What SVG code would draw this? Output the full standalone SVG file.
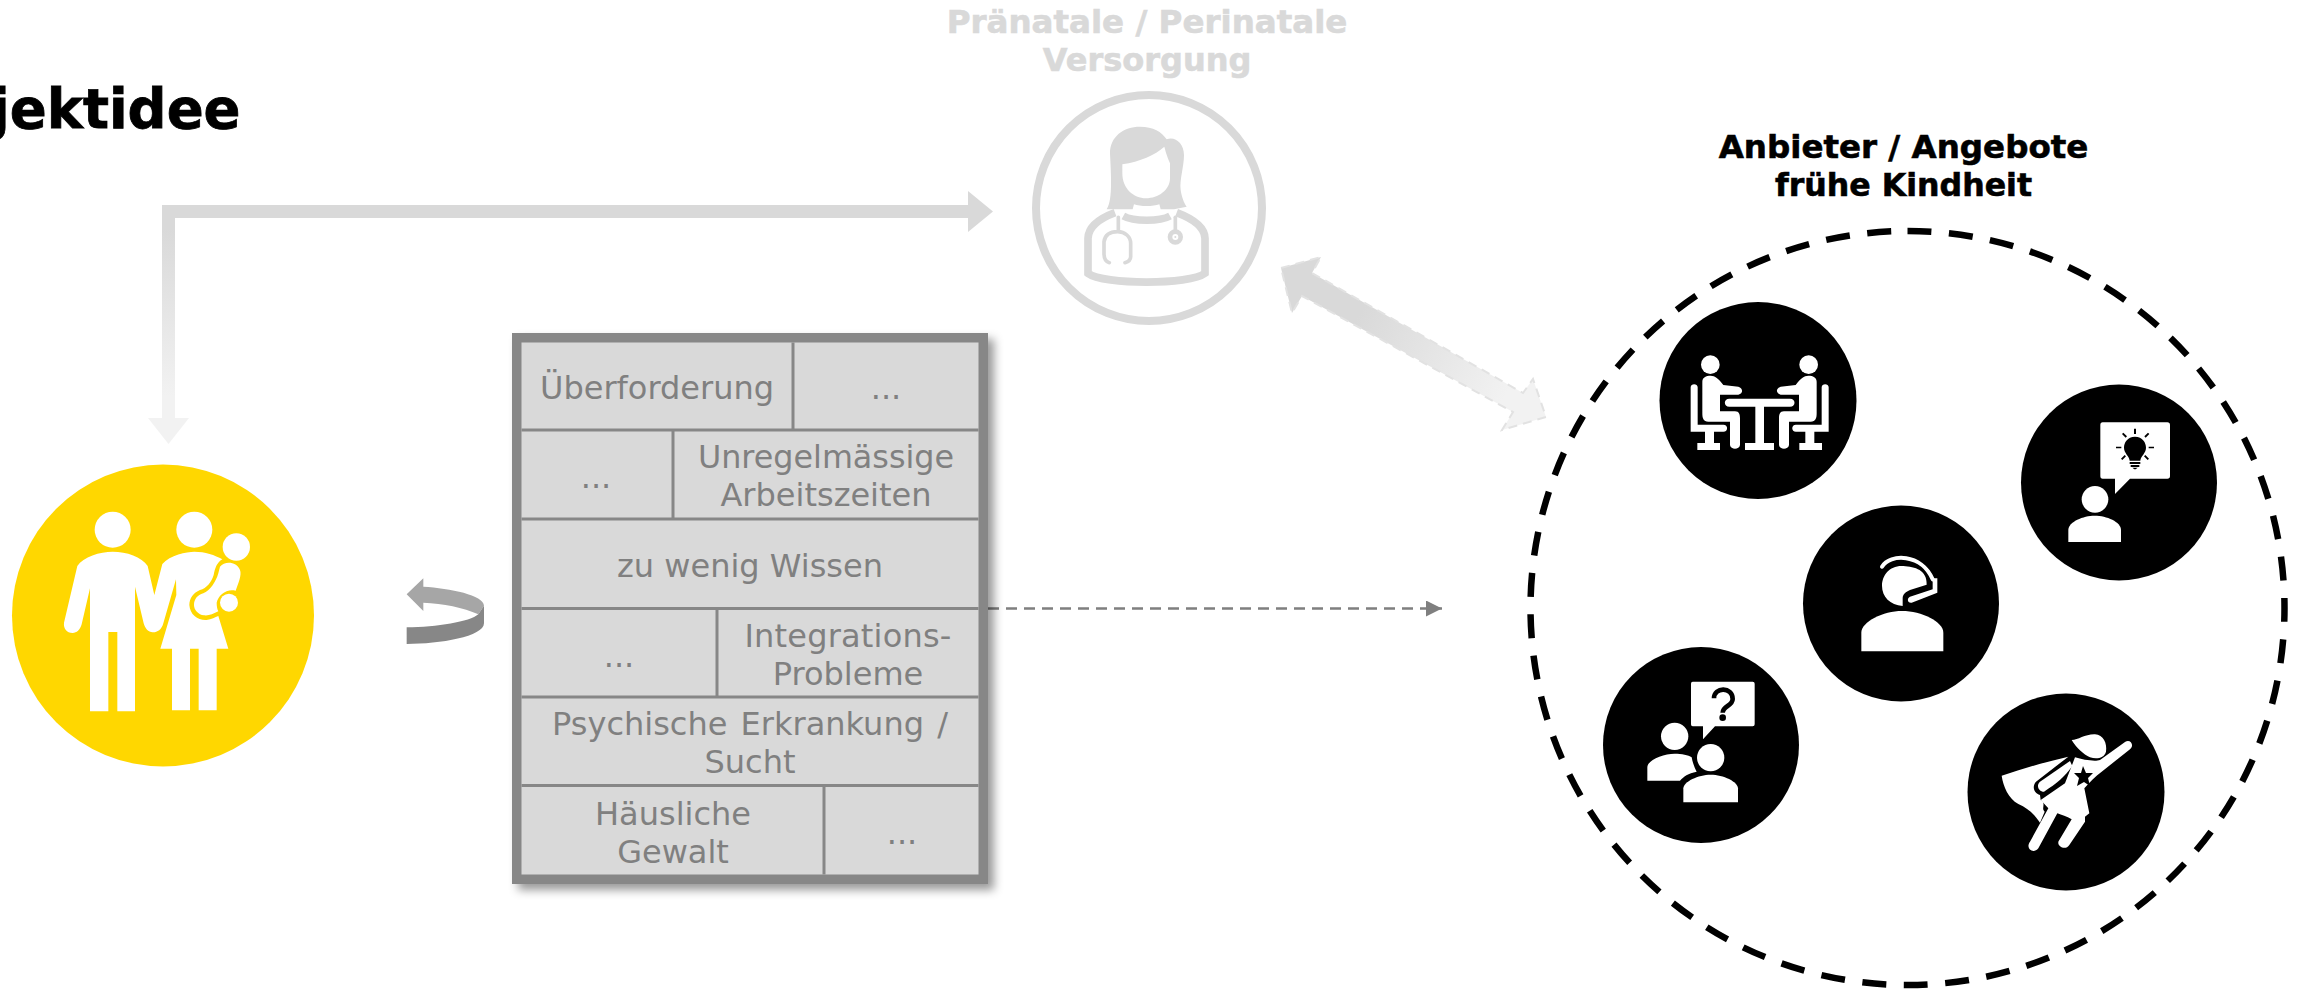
<svg xmlns="http://www.w3.org/2000/svg" width="2305" height="994" viewBox="0 0 2305 994">
<style>
text{font-family:"DejaVu Sans","Liberation Sans",sans-serif}
.t{font-size:32px;fill:#808080;text-anchor:middle}
.h{font-size:32.500px;font-weight:700;text-anchor:middle;stroke-width:.6px}
.w{fill:#fff}
.k{fill:#000}
.l{stroke:#878787;stroke-width:3;fill:none}
.s{fill:none;stroke:#d9d9d9;stroke-linecap:round}
</style>
<defs>
<linearGradient id="gv" gradientUnits="userSpaceOnUse" x1="0" y1="205" x2="0" y2="444"><stop offset="0.1" stop-color="#d9d9d9"/><stop offset="0.8" stop-color="#f2f2f2"/></linearGradient>
<linearGradient id="gd" gradientUnits="userSpaceOnUse" x1="1281" y1="268" x2="1546" y2="417"><stop offset="0.3" stop-color="#d9d9d9"/><stop offset="0.85" stop-color="#f2f2f2"/></linearGradient>
<filter id="sh" x="-10%" y="-10%" width="125%" height="125%"><feDropShadow dx="6" dy="6" stdDeviation="5" flood-color="#000" flood-opacity="0.4"/></filter>
<marker id="ah" markerWidth="16" markerHeight="16" refX="16" refY="8" orient="auto" markerUnits="userSpaceOnUse"><path d="M0 0L16 8L0 16Z" fill="#7f7f7f"/></marker>
</defs>

<g id="title"><text x="-9" y="128" font-size="54.500" font-weight="700" fill="#000" stroke="#000" stroke-width=".8">jektidee</text></g>

<g id="connectors">
<path d="M993 211.500L968 191V205H162V418H148L168.500 444L189 418H175V218H968V232Z" fill="url(#gv)"/>
<path d="M1281 268L1321 257L1312 273L1523 393L1533 379L1546 417L1502 430L1513 412L1302 296L1292 313Z" fill="url(#gd)" stroke="#e2e2e2" stroke-width="2" stroke-dasharray="9 6"/>
<path d="M988 608.500H1442" fill="none" stroke="#7f7f7f" stroke-width="2.500" stroke-dasharray="11 7" marker-end="url(#ah)"/>
<g id="cycle" transform="translate(0 440) scale(.33333)">
<path d="M1220 463L1270 415V440C1350 445 1452 465 1452 497L1435 523C1390 503 1330 490 1270 488V513Z" fill="#a6a6a6"/>
<path d="M1220 562C1310 562 1410 545 1435 523L1452 497V550C1452 590 1320 612 1220 612Z" fill="#878787"/>
</g>
</g>

<g id="family">
<circle cx="163" cy="615.500" r="151" fill="#ffd700"/>
<g transform="translate(0 440) scale(.33333)" class="w">
<circle cx="338" cy="269" r="54"/>
<circle cx="583" cy="269" r="54"/>
<circle cx="709" cy="321" r="41"/>
<circle cx="687" cy="488" r="27"/>
<path d="M232 378C250 350 300 335 338 335C380 335 425 350 443 378L463 465L487 372C510 345 560 335 583 335C615 335 645 345 667 358C650 368 645 385 641 405C635 425 620 445 600 450C580 458 568 475 568 495C570 525 595 542 620 540C635 538 645 532 655 528L685 626H650V811H596V626H570V811H516V626H481L529 465L528 418L490 550C485 570 470 578 458 577C445 577 435 565 431 550L405 440V814H352V576H325V814H270V445L245 553C240 570 230 579 218 579C200 579 190 565 192 548Z"/>
<path d="M660 380C675 362 710 365 720 390C726 405 715 430 707 452C680 445 655 465 650 488C650 500 652 508 655 514C640 522 625 528 612 526C595 524 582 510 582 495C582 478 592 465 610 460C630 452 648 425 655 400Z"/>
</g>
</g>

<g id="barriers">
<rect x="512" y="333" width="476" height="551" fill="#878787" filter="url(#sh)"/>
<rect x="521.500" y="342.500" width="457" height="532" fill="#d9d9d9"/>
<path class="l" d="M521.500 430H978.500M521.500 519H978.500M521.500 608.500H978.500M521.500 697H978.500M521.500 785.500H978.500M793 342.500V430M673 430V519M717 608.500V697M824 785.500V874.500"/>
<text class="t" x="657" y="399">Überforderung</text>
<text class="t" x="886" y="399">...</text>
<text class="t" x="596" y="488">...</text>
<text class="t" x="826" y="468" style="font-size:31.800px">Unregelmässige</text>
<text class="t" x="826" y="506">Arbeitszeiten</text>
<text class="t" x="750" y="577">zu wenig Wissen</text>
<text class="t" x="619" y="666.500">...</text>
<text class="t" x="848" y="647" letter-spacing=".2">Integrations-</text>
<text class="t" x="848" y="685">Probleme</text>
<text class="t" x="750" y="735" word-spacing="3">Psychische Erkrankung /</text>
<text class="t" x="750" y="773">Sucht</text>
<text class="t" x="673" y="824.500">Häusliche</text>
<text class="t" x="673" y="862.500">Gewalt</text>
<text class="t" x="902" y="844">...</text>
</g>

<g id="doctor">
<text class="h" x="1147" y="33" fill="#d9d9d9" stroke="#d9d9d9">Pränatale / Perinatale</text>
<text class="h" x="1147" y="71" fill="#d9d9d9" stroke="#d9d9d9" style="font-size:32px">Versorgung</text>
<circle cx="1149" cy="208" r="113" fill="none" stroke="#d9d9d9" stroke-width="8"/>
<g transform="translate(1060 110) scale(.33333)">
<path fill="#d9d9d9" fill-rule="evenodd" d="M140 298C160 270 152 180 150 130C150 80 190 50 240 50C280 50 305 65 320 88C345 78 372 100 372 135C372 170 358 210 362 240C365 260 372 280 380 290L342 298H302L298 283C280 290 240 290 222 283L218 298ZM187 163V190C187 235 220 265 258 265C295 265 330 240 330 205V160C322 140 318 130 313 110C285 135 240 155 187 163Z"/>
<path class="s" stroke-width="23" style="stroke-linecap:butt" d="M165 308C120 325 85 350 84 385V490C130 525 390 525 435 490V385C434 350 395 325 350 308"/>
<path class="s" stroke-width="22" style="stroke-linecap:butt" d="M190 318C220 335 300 335 330 318"/>
<path class="s" stroke-width="11" d="M175 322V362M148 458C135 455 132 445 132 430V395C135 375 150 365 173 365C195 365 212 380 212 400V440C212 450 205 455 195 458"/>
<path class="s" stroke-width="11" d="M346 322V360"/>
<circle cx="346" cy="381" r="16" fill="none" stroke="#d9d9d9" stroke-width="14"/>
<circle cx="346" cy="381" r="3" fill="#d9d9d9"/>
</g>
</g>

<g id="providers">
<text class="h" x="1903.500" y="158" fill="#000" stroke="#000">Anbieter / Angebote</text>
<text class="h" x="1903.500" y="196" fill="#000" stroke="#000" style="font-size:31.600px">frühe Kindheit</text>
<circle cx="1907.500" cy="608" r="377" fill="none" stroke="#000" stroke-width="6.500" stroke-dasharray="24 17.560" transform="rotate(-90 1907.500 608)"/>
</g>

<g id="provider-meeting">
<circle class="k" cx="1758" cy="400.500" r="98.500"/>
<g class="w" transform="translate(1640 290) scale(.33333)">
<circle cx="211" cy="224" r="28"/><circle cx="506" cy="224" r="28"/>
<path d="M187 275C187 262 198 257 212 257C225 257 235 265 250 285L295 290C310 295 310 310 295 314H240V364H285C298 364 300 375 300 385V465C298 480 272 480 270 465V395H205C190 395 187 385 187 370Z"/>
<path d="M530 275C530 262 519 257 505 257C492 257 482 265 467 285L422 290C407 295 407 310 422 314H477V364H432C419 364 417 375 417 385V465C419 480 445 480 447 465V395H512C527 395 530 385 530 370Z"/>
<path d="M268 326H450C468 326 468 350 450 350H372V459H402V480H315V459H346V350H268C250 350 250 326 268 326Z"/>
<path d="M152 292C152 280 173 280 173 292V404H250C265 404 265 425 250 425H222V459H240V480H172V459H195V425H152Z"/>
<path d="M566 292C566 280 545 280 545 292V404H468C453 404 453 425 468 425H496V459H478V480H546V459H523V425H566Z"/>
</g>
</g>

<g id="provider-idea">
<circle class="k" cx="2119" cy="482.500" r="98"/>
<g class="w" transform="translate(2010 370) scale(.33333)">
<path d="M278 157H472Q480 157 480 165V318Q480 326 472 326H360L315 372V326H278Q271 326 271 318V165Q271 157 278 157Z"/>
<circle cx="255" cy="388" r="40"/>
<path d="M175 516V480C175 455 220 437 254 437C290 437 333 455 333 480V516Z"/>
</g>
<g transform="translate(2010 370) scale(.33333)" fill="#000">
<path d="M375 200C398 200 408 218 408 233C408 250 392 258 391 272H359C358 258 342 250 342 233C342 218 352 200 375 200Z"/>
<path d="M359 276H391V282H359ZM362 285H388V291H362ZM367 293H383L377 298H373Z"/>
<path d="M372 176h6v16h-6ZM318 230h16v5h-16ZM416 230h16v5h-16ZM336 192l4-4 11 11-4 4ZM414 188l4 4-11 11-4-4ZM333 266l11-11 4 4-11 11ZM406 255l11 11-4 4-11-11Z"/>
</g>
</g>

<g id="provider-hotline">
<circle class="k" cx="1901" cy="603.500" r="98"/>
<g transform="translate(1790 490) scale(.33333)">
<path class="w" d="M340 228C300 225 276 255 276 287C276 320 300 345 338 348V325C338 312 348 305 360 300L410 284C412 240 375 230 340 228Z"/>
<path class="w" d="M214 484V428C214 395 280 363 336 363C395 363 460 395 460 428V484Z"/>
<path d="M276 230C300 190 395 190 428 268" fill="none" stroke="#fff" stroke-width="12" stroke-linecap="round"/>
<path class="w" d="M428 265H442V308L365 338C352 340 350 325 360 320L428 298Z"/>
</g>
</g>

<g id="provider-question">
<circle class="k" cx="1701" cy="745" r="98"/>
<g transform="translate(1590 630) scale(.33333)">
<path class="w" d="M308 155H488Q494 155 494 161V283Q494 289 488 289H375L339 328V289H308Q303 289 303 283V161Q303 155 308 155Z"/>
<path d="M372 205C372 170 428 170 428 207C428 228 398 228 398 248" fill="none" stroke="#000" stroke-width="14"/>
<circle class="k" cx="398" cy="263" r="10"/>
<circle class="w" cx="254" cy="319" r="41"/>
<path class="w" d="M172 452V412C172 390 220 371 254 371C275 371 295 375 305 382C308 400 315 415 320 425C295 430 280 440 270 452Z"/>
<circle class="w" cx="362" cy="383" r="41"/>
<path class="w" d="M280 517V475C280 455 325 434 362 434C400 434 444 455 444 475V517Z"/>
</g>
</g>

<g id="provider-hero">
<circle class="k" cx="2066" cy="792" r="98.500"/>
<g class="w" transform="translate(1950 680) scale(.33333)">
<path d="M365 180C385 180 405 162 435 163C460 165 472 190 468 215C462 235 440 238 420 232C400 222 380 205 365 180Z"/>
<path d="M155 287C220 265 290 245 355 230L258 305C245 320 252 340 270 345L272 360C290 370 272 385 284 395L270 428C255 405 235 385 205 372C175 355 160 320 155 287Z"/>
<path d="M282 335C265 335 258 315 270 305L360 243L367 258C345 290 320 310 282 335Z"/>
<path d="M375 232C400 240 435 245 450 240L525 186C540 175 555 195 540 208L455 275C435 290 420 305 403 325L418 400L405 410L405 425L358 495C345 515 315 495 328 480L365 418C350 408 335 405 322 400L265 505C250 525 225 505 240 485L295 385L272 360L345 310Z"/>
</g>
<path d="M2083 766l3 7 7 0-5 5 2 8-6-4-7 4 2-8-5-5 7 0Z" fill="#000"/>
</g>
</svg>
